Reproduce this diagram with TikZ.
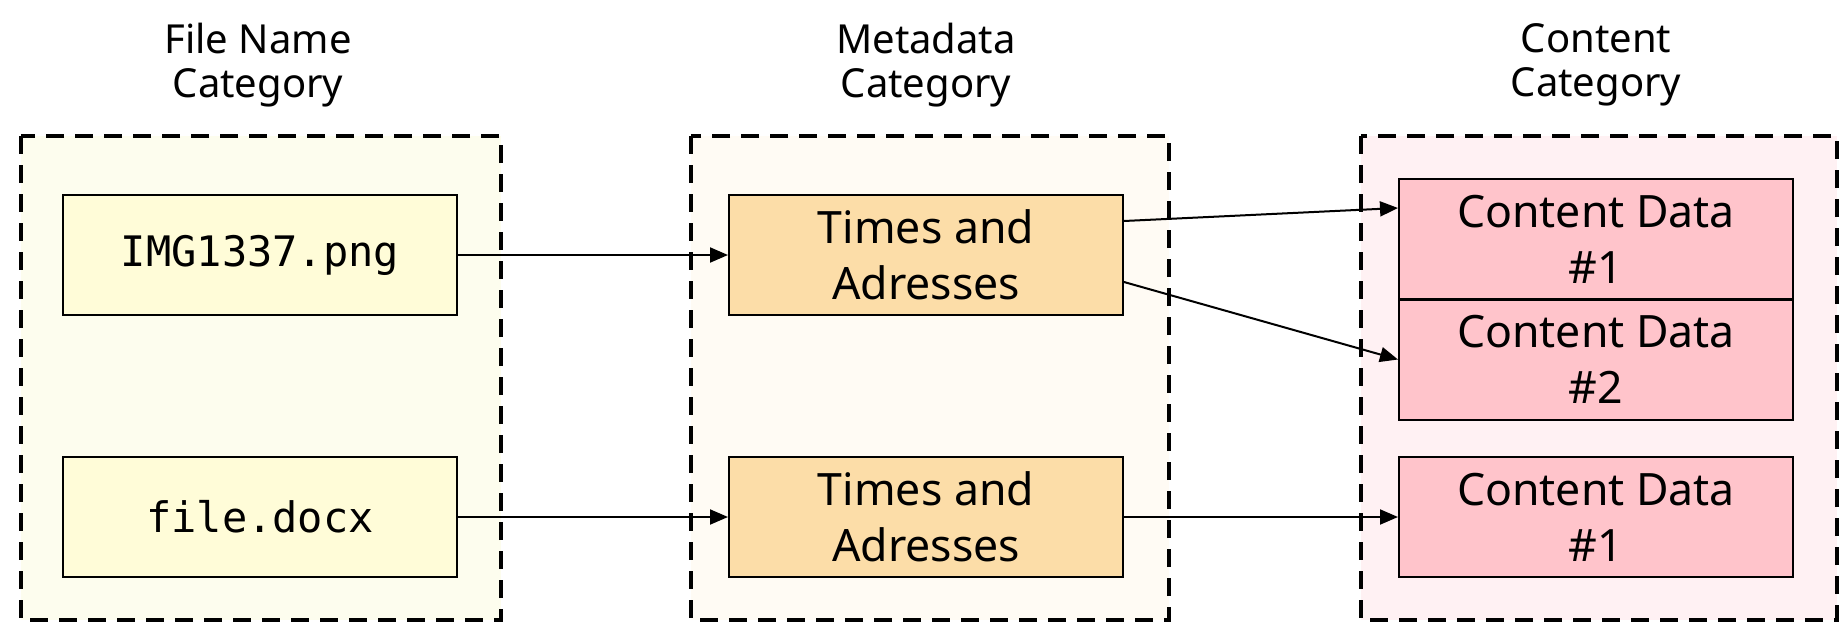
\documentclass[tikz,border=0pt]{standalone}
\usepackage{fontspec}
\setmainfont{Noto Sans}
\setmonofont{DejaVu Sans Mono}
\usetikzlibrary{arrows.meta,calc}

\definecolor{fnBg}{HTML}{FDFDEE}
\definecolor{fnBox}{HTML}{FFFCD8}
\definecolor{mdBg}{HTML}{FFFBF4}
\definecolor{mdBox}{HTML}{FCDDA8}
\definecolor{ctBg}{HTML}{FFF1F3}
\definecolor{ctBox}{HTML}{FFC4CB}

\tikzset{
  group/.style={draw=black, line width=1.8pt, dash pattern=on 9pt off 5.5pt, line cap=butt},
  itembox/.style={draw=black, line width=1pt, minimum width=197pt, minimum height=60pt,
                  inner sep=0pt, align=center},
  fnitem/.style={itembox, fill=fnBox, font=\ttfamily\fontsize{21}{26}\selectfont},
  mditem/.style={itembox, fill=mdBox, font=\fontsize{22.3}{28}\selectfont},
  ctitem/.style={itembox, fill=ctBox, font=\fontsize{22.3}{28}\selectfont},
  heading/.style={align=center, font=\fontsize{20}{21.8}\selectfont},
  link/.style={line width=1pt, -{Triangle[length=9pt,width=7.5pt]}}
}

\begin{document}
\begin{tikzpicture}[x=0.5pt,y=-0.5pt]
\useasboundingbox (0,0) rectangle (1844,628);

% category frames
\filldraw[group, fill=fnBg] (21,136) rectangle (501,620);
\filldraw[group, fill=mdBg] (691,136) rectangle (1169,620);
\filldraw[group, fill=ctBg] (1361,136) rectangle (1837,620);

% category headings
\node[heading] (h1) at (258,65) {File Name\\Category};
\node[heading] (h2) at (926,65) {Metadata\\Category};
\node[heading] (h3) at (1596,65) {Content\\Category};

% file name items
\node[fnitem] (f1) at (260,255) {IMG1337.png};
\node[fnitem] (f2) at (260,517) {file.docx};

% metadata items
\node[mditem] (t1) at (926,255) {Times and\\Adresses};
\node[mditem] (t2) at (926,517) {Times and\\Adresses};

% content items
\node[ctitem] (c1) at (1596,239) {Content Data\\\#1};
\node[ctitem] (c2) at (1596,359.5) {Content Data\\\#2};
\node[ctitem] (c3) at (1596,517) {Content Data\\\#1};

% connectors
\draw[link] (f1.east) -- (t1.west);
\draw[link] (f2.east) -- (t2.west);
\draw[link] ([yshift=17pt]t1.east) -- ([yshift=15.5pt]c1.west);
\draw[link] ([yshift=-13.5pt]t1.east) -- (c2.west);
\draw[link] (t2.east) -- (c3.west);
\end{tikzpicture}
\end{document}
